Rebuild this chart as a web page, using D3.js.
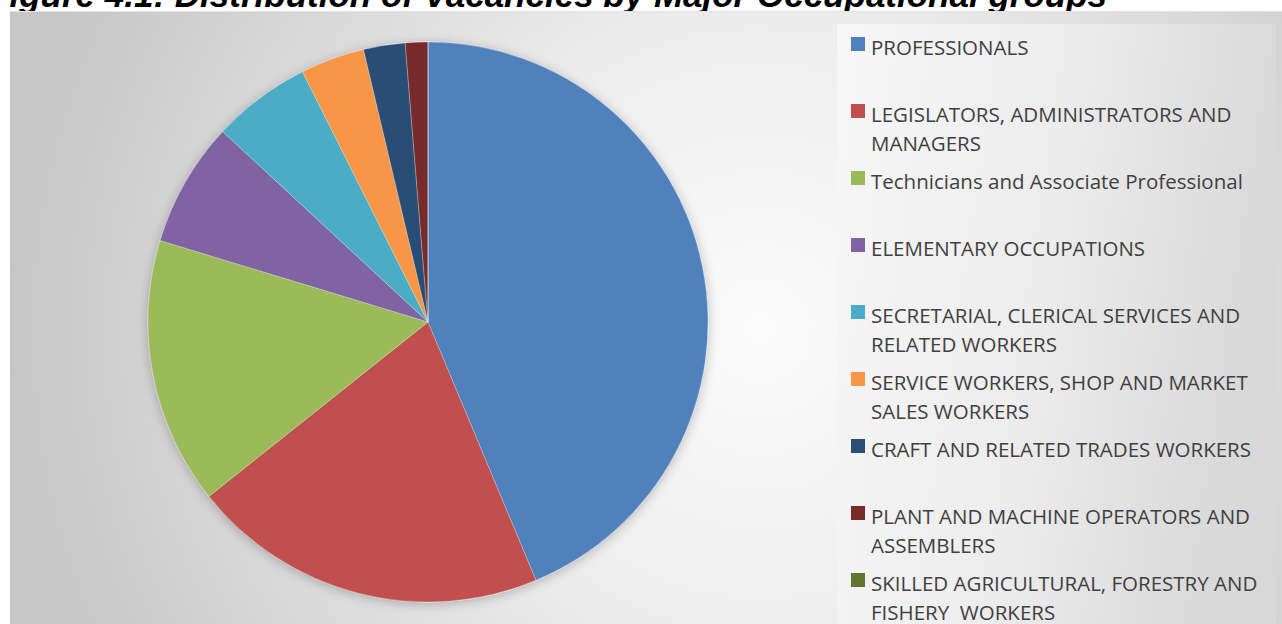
<!DOCTYPE html>
<html>
<head>
<meta charset="utf-8">
<script src="https://cdn.jsdelivr.net/npm/d3@7"></script>
<style>
  html, body { margin: 0; padding: 0; background: #ffffff; }
  svg { display: block; }
</style>
</head>
<body>
<svg id="chart" width="1282" height="624"></svg>
<script>
// Share of vacancies by major occupational group (%)
const categories = [
  "PROFESSIONALS",
  "LEGISLATORS, ADMINISTRATORS AND MANAGERS",
  "Technicians and Associate Professional",
  "ELEMENTARY OCCUPATIONS",
  "SECRETARIAL, CLERICAL SERVICES AND RELATED WORKERS",
  "SERVICE WORKERS, SHOP AND MARKET SALES WORKERS",
  "CRAFT AND RELATED TRADES WORKERS",
  "PLANT AND MACHINE OPERATORS AND ASSEMBLERS",
  "SKILLED AGRICULTURAL, FORESTRY AND FISHERY  WORKERS"
];
const values = [43.7, 20.6, 15.4, 7.2, 5.7, 3.7, 2.4, 1.3, 0.0];
// Legend text as wrapped in the legend box
const legendLines = [
  ["PROFESSIONALS"],
  ["LEGISLATORS, ADMINISTRATORS AND", "MANAGERS"],
  ["Technicians and Associate Professional"],
  ["ELEMENTARY OCCUPATIONS"],
  ["SECRETARIAL, CLERICAL SERVICES AND", "RELATED WORKERS"],
  ["SERVICE WORKERS, SHOP AND MARKET", "SALES WORKERS"],
  ["CRAFT AND RELATED TRADES WORKERS"],
  ["PLANT AND MACHINE OPERATORS AND", "ASSEMBLERS"],
  ["SKILLED AGRICULTURAL, FORESTRY AND", "FISHERY  WORKERS"]
];
const colors = ["#4F81BD", "#C0504D", "#9BBB59", "#8064A2", "#4BACC6",
                "#F79646", "#2C4D75", "#772C2A", "#5F7530"];
const titleText = "Figure 4.1: Distribution of Vacancies by Major Occupational groups";

const svg = d3.select("#chart");
const defs = svg.append("defs");

// Chart area background: soft radial shading
const bg = defs.append("radialGradient").attr("id", "bgGrad")
  .attr("gradientUnits", "userSpaceOnUse")
  .attr("cx", 760).attr("cy", 330).attr("r", 760);
bg.append("stop").attr("offset", "0").attr("stop-color", "#fbfbfb");
bg.append("stop").attr("offset", "0.35").attr("stop-color", "#f0f0f0");
bg.append("stop").attr("offset", "0.75").attr("stop-color", "#d6d6d6");
bg.append("stop").attr("offset", "1").attr("stop-color", "#c6c6c6");

// Legend panel shading
const lg = defs.append("linearGradient").attr("id", "legGrad")
  .attr("x1", "0").attr("x2", "1").attr("y1", "0").attr("y2", "0.2");
lg.append("stop").attr("offset", "0").attr("stop-color", "#f7f7f7");
lg.append("stop").attr("offset", "0.5").attr("stop-color", "#ededed");
lg.append("stop").attr("offset", "1").attr("stop-color", "#d9d9d9");

// Soft shadow under the pie
const sh = defs.append("filter").attr("id", "pieShadow")
  .attr("x", "-20%").attr("y", "-20%").attr("width", "140%").attr("height", "140%");
sh.append("feGaussianBlur").attr("in", "SourceAlpha").attr("stdDeviation", 6).attr("result", "b");
sh.append("feOffset").attr("in", "b").attr("dx", 0).attr("dy", 2).attr("result", "o");
sh.append("feComponentTransfer").attr("in", "o").attr("result", "s")
  .append("feFuncA").attr("type", "linear").attr("slope", 0.25);
const m = sh.append("feMerge");
m.append("feMergeNode").attr("in", "s");
m.append("feMergeNode").attr("in", "SourceGraphic");

// Title (runs off the top edge)
svg.append("text")
  .attr("x", 1107).attr("y", 7)
  .attr("text-anchor", "end")
  .attr("font-family", "Liberation Sans, Arial, sans-serif")
  .attr("font-weight", "bold")
  .attr("font-style", "italic")
  .attr("font-size", 35)
  .attr("fill", "#000")
  .text(titleText);

// Chart area
svg.append("rect")
  .attr("x", 10.5).attr("y", 11.5).attr("width", 1280).attr("height", 620)
  .attr("fill", "url(#bgGrad)")
  .attr("stroke", "#e4e4e4").attr("stroke-width", 1);
svg.append("line")
  .attr("x1", 11).attr("x2", 11).attr("y1", 12).attr("y2", 624)
  .attr("stroke", "#bdbdbd").attr("stroke-width", 1.5);

// Pie
const cx = 428, cy = 322, radius = 280;
const pie = d3.pie().sort(null).value(d => d)(values);
const arc = d3.arc().innerRadius(0).outerRadius(radius);

const g = svg.append("g")
  .attr("transform", `translate(${cx},${cy})`)
  .attr("filter", "url(#pieShadow)");
g.selectAll("path")
  .data(pie)
  .join("path")
  .attr("d", arc)
  .attr("fill", (d, i) => colors[i])
  .attr("stroke", "rgba(255,255,255,0.35)")
  .attr("stroke-width", 0.75);

// Legend
const legX = 837, legY = 24;
svg.append("rect")
  .attr("x", legX).attr("y", legY).attr("width", 1276 - legX).attr("height", 624 - legY)
  .attr("fill", "url(#legGrad)");

const rowY = d3.scaleLinear().domain([0, 1]).range([47, 114]);
const leg = svg.append("g")
  .attr("font-family", "Open Sans, sans-serif")
  .attr("font-size", 20.5)
  .attr("fill", "#404040");

categories.forEach((c, i) => {
  const y0 = rowY(i);
  leg.append("rect")
    .attr("x", 851).attr("y", y0 - 10).attr("width", 14).attr("height", 14)
    .attr("fill", colors[i]);
  const t = leg.append("text").attr("x", 871).attr("y", y0 + 7.5);
  legendLines[i].forEach((ln, k) => {
    // keep repeated spaces visible
    t.append("tspan").attr("x", 871).attr("dy", k === 0 ? 0 : 29)
      .text(ln.replace(/ {2}/g, " \u00a0"));
  });
});
</script>
</body>
</html>
